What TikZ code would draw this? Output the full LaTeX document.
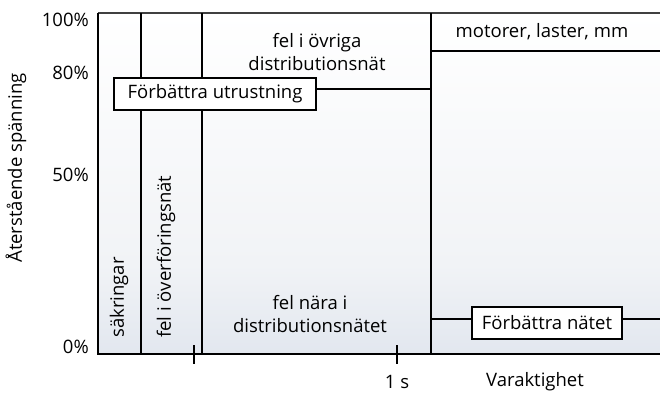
\documentclass[tikz,border=0pt]{standalone}
\usepackage{fontspec}
\setmainfont{Open Sans}
\definecolor{bgblue}{RGB}{226,231,239}
\definecolor{bgmid}{RGB}{241,243,246}
\begin{document}
\begin{tikzpicture}[x=1pt,y=-1pt,
  lbl/.style={font=\fontsize{18.5}{23}\selectfont, inner sep=0pt, align=center},
  boxlbl/.style={lbl, draw, line width=1.5pt, fill=white, inner xsep=8pt, minimum height=32pt},
  axis/.style={line width=2.6pt},
  divider/.style={line width=1.6pt},
  thinline/.style={line width=1.3pt, black!75}]
\useasboundingbox (0,0) rectangle (660,392);
% background shading
\shade[top color=white, bottom color=bgmid] (98,13) rectangle (660,265);
\shade[top color=bgmid, bottom color=bgblue] (98,265) rectangle (660,354);
% coordinates
\coordinate (O) at (98,354);
\coordinate (Ytop) at (98,13);
\coordinate (Xend) at (660,354);
\coordinate (Tend) at (660,13);
\coordinate (v1t) at (141,13); \coordinate (v1b) at (141,354);
\coordinate (v2t) at (202,13); \coordinate (v2b) at (202,354);
\coordinate (v3t) at (431,13); \coordinate (v3b) at (431,354);
\coordinate (h1r) at (660,51); \coordinate (h1l) at (431,51);
\coordinate (h2r) at (431,89);
\coordinate (h3l) at (431,319); \coordinate (h3r) at (660,319);
\coordinate (t1a) at (194,345); \coordinate (t1b) at (194,364);
\coordinate (t2a) at (397,345); \coordinate (t2b) at (397,364);
% lines
\draw[thinline] (Ytop) -- (Tend);
\draw[divider] (v1t) -- (v1b);
\draw[divider] (v2t) -- (v2b);
\draw[divider] (v3t) -- (v3b);
\draw[divider] (h1l) -- (h1r);
\draw[divider] (h3l) -- (h3r);
\draw[divider] (t1a) -- (t1b);
\draw[divider] (t2a) -- (t2b);
% boxes
\node[boxlbl, minimum width=202pt] (utr) at (215,94) {Förbättra utrustning};
\draw[divider] (utr.east |- h2r) -- (h2r);
\node[boxlbl, minimum width=150pt] (nat) at (547,323) {Förbättra nätet};
% axes
\draw[axis] (Ytop) -- (O) -- (Xend);
% axis labels
\node[lbl, anchor=east] (p100) at (89,20) {100\%};
\node[lbl, anchor=east] (p80) at (89,73) {80\%};
\node[lbl, anchor=east] (p50) at (89,175) {50\%};
\node[lbl, anchor=east] (p0) at (89,347) {0\%};
\node[lbl, rotate=90] (ylab) at (16,168) {Återstående spänning};
\node[lbl] (s1) at (397,382) {1 s};
\node[lbl] (vak) at (535,382) {Varaktighet};
% region labels
\node[lbl, rotate=90, anchor=west] (sak) at (119,338) {säkringar};
\node[lbl, rotate=90, anchor=west] (ofn) at (166,338) {fel i överföringsnät};
\node[lbl] (ovr) at (317,52) {fel i övriga\\distributionsnät};
\node[lbl] (mot) at (542,32) {motorer, laster, mm};
\node[lbl] (nar) at (310,314) {fel nära i\\distributionsnätet};
\end{tikzpicture}
\end{document}
